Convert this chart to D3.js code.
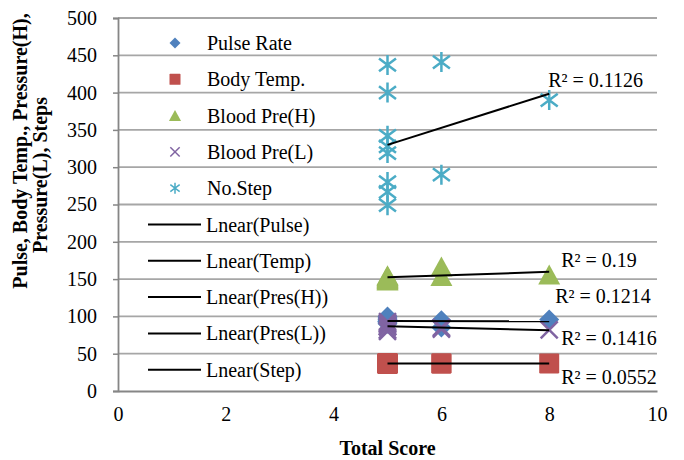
<!DOCTYPE html>
<html>
<head>
<meta charset="utf-8">
<script src="https://cdn.jsdelivr.net/npm/d3@7"></script>
<style>
  html, body { margin: 0; padding: 0; background: #fff; }
  svg { display: block; }
  text { font-family: "Liberation Serif", "Times New Roman", serif; fill: #000; }
</style>
</head>
<body>
<svg id="chart" width="684" height="460"></svg>
<script>
// ---------- data ----------
const totalScore = [5, 5, 5, 5, 5, 5, 5, 5, 6, 6, 8];
const pulseRate  = [100, 96, 92, 94, 98, 90, 93, 93, 95, 85, 96];
const bodyTemp   = [36.8, 37.0, 36.5, 37.2, 36.9, 36.6, 37.1, 36.7, 36.9, 36.8, 37.0];
const bloodPreH  = [155, 150, 149, 152, 151, 153, 148, 154, 167, 154, 156];
const bloodPreL  = [93, 90, 86, 91, 80, 82, 88, 86, 85, 83, 82];
const noStep     = [437, 400, 342, 328, 319, 280, 267, 249, 441, 290, 390];

const seriesNames = ["Pulse Rate", "Body Temp.", "Blood Pre(H)", "Blood Pre(L)", "No.Step"];
const trendNames  = ["Lnear(Pulse)", "Lnear(Temp)", "Lnear(Pres(H))", "Lnear(Pres(L))", "Lnear(Step)"];
const rSquaredLabels = ["R² = 0.1214", "R² = 0.0552", "R² = 0.19", "R² = 0.1416", "R² = 0.1126"];
const yTicks = [0, 50, 100, 150, 200, 250, 300, 350, 400, 450, 500];
const xTicks = [0, 2, 4, 6, 8, 10];
const xTitle = "Total Score";
const yTitleLines = ["Pulse, Body Temp., Pressure(H),", "Pressure(L), Steps"];

// ---------- styling ----------
const colors  = ["#4F81BD", "#C0504D", "#9BBB59", "#8064A2", "#4BACC6"];
const shapes  = ["diamond", "square", "triangle", "cross", "star"];
const values  = [pulseRate, bodyTemp, bloodPreH, bloodPreL, noStep];
// label offsets relative to the right end of each trend line
const labelOffsets = [[6, -18], [12, 21], [12, -5], [12, 15], [-1, -7]];

const W = 684, H = 460;
const m = { left: 118, right: 27, top: 18, bottom: 69 };
const svg = d3.select("#chart");

const x = d3.scaleLinear().domain([0, 10]).range([m.left, W - m.right]);
const y = d3.scaleLinear().domain([0, 500]).range([H - m.bottom, m.top]);

// gridlines
svg.append("g").selectAll("line").data(yTicks.filter(d => d > 0)).join("line")
  .attr("x1", x(0)).attr("x2", x(10))
  .attr("y1", d => y(d)).attr("y2", d => y(d))
  .attr("stroke", "#A6A6A6").attr("stroke-width", 1.8);

// y axis
const yAxis = svg.append("g").attr("transform", `translate(${m.left},0)`)
  .call(d3.axisLeft(y).tickValues(yTicks).tickSize(5).tickPadding(16));
yAxis.select(".domain").attr("stroke", "#868686").attr("stroke-width", 1.8);
yAxis.selectAll(".tick line").attr("stroke", "#868686").attr("stroke-width", 1.5);
yAxis.selectAll("text").style("font-family", "Liberation Serif").style("font-size", "20px").attr("fill", "#000");

// x axis
const xAxis = svg.append("g").attr("transform", `translate(0,${y(0)})`)
  .call(d3.axisBottom(x).tickValues(xTicks).tickSize(0).tickPadding(16).tickFormat(d3.format("d")));
xAxis.select(".domain").attr("stroke", "#868686").attr("stroke-width", 1.8);
xAxis.selectAll("text").style("font-family", "Liberation Serif").style("font-size", "20px").attr("fill", "#000");

// axis titles
svg.append("text").attr("x", x(5)).attr("y", 455)
  .attr("text-anchor", "middle").style("font-size", "20px").style("font-weight", "bold")
  .text(xTitle);
const yTitlePos = [[27, 151], [47, 175]];
yTitleLines.forEach((t, i) => {
  svg.append("text")
    .attr("transform", `translate(${yTitlePos[i][0]},${yTitlePos[i][1]}) rotate(-90)`)
    .attr("text-anchor", "middle").style("font-size", "20px").style("font-weight", "bold")
    .text(t);
});

// marker drawing
function drawMarker(g, shape, color, s) {
  if (shape === "diamond") {
    g.append("path").attr("d", `M0,${-s}L${s},0L0,${s}L${-s},0Z`).attr("fill", color);
  } else if (shape === "square") {
    g.append("rect").attr("x", -s).attr("y", -s).attr("width", 2 * s).attr("height", 2 * s)
      .attr("rx", s * 0.12).attr("fill", color);
  } else if (shape === "triangle") {
    g.append("path").attr("d", `M0,${-s}L${s * 1.1},${s}L${-s * 1.1},${s}Z`).attr("fill", color);
  } else if (shape === "cross") {
    const c = s * 0.85;
    g.append("path").attr("d", `M${-c},${-c}L${c},${c}M${-c},${c}L${c},${-c}`)
      .attr("stroke", color).attr("stroke-width", Math.max(1.5, s * 0.25)).attr("fill", "none");
  } else if (shape === "star") {
    const c = s * 0.85;
    g.append("path").attr("d", `M${-c},${-c * 0.75}L${c},${c * 0.75}M${-c},${c * 0.75}L${c},${-c * 0.75}M0,${-s}L0,${s}`)
      .attr("stroke", color).attr("stroke-width", Math.max(1.5, s * 0.25)).attr("fill", "none");
  }
}

// markers
values.forEach((vals, si) => {
  const g = svg.append("g");
  vals.forEach((v, i) => {
    const mg = g.append("g").attr("transform", `translate(${x(totalScore[i])},${y(v)})`);
    drawMarker(mg, shapes[si], colors[si], 10);
  });
});

// trend lines (least squares)
function linreg(xs, ys) {
  const n = xs.length, mx = d3.mean(xs), my = d3.mean(ys);
  let sxy = 0, sxx = 0;
  for (let i = 0; i < n; i++) { sxy += (xs[i] - mx) * (ys[i] - my); sxx += (xs[i] - mx) ** 2; }
  const b = sxy / sxx;
  return { b, a: my - b * mx };
}
const xMin = d3.min(totalScore), xMax = d3.max(totalScore);
values.forEach((vals, si) => {
  const r = linreg(totalScore, vals);
  const y1 = r.a + r.b * xMin, y2 = r.a + r.b * xMax;
  svg.append("line")
    .attr("x1", x(xMin)).attr("y1", y(y1)).attr("x2", x(xMax)).attr("y2", y(y2))
    .attr("stroke", "#000").attr("stroke-width", 2);
  svg.append("text")
    .attr("x", x(xMax) + labelOffsets[si][0]).attr("y", y(y2) + labelOffsets[si][1])
    .style("font-size", "20px")
    .text(rSquaredLabels[si]);
});

// legend
const leg = svg.append("g");
const legY0 = 43, legStep = 36.3;
seriesNames.forEach((name, i) => {
  const cy = legY0 + i * legStep;
  const mg = leg.append("g").attr("transform", `translate(175,${cy})`);
  drawMarker(mg, shapes[i], colors[i], 5.5);
  leg.append("text").attr("x", 207).attr("y", cy).attr("dy", "0.35em")
    .style("font-size", "20px").text(name);
});
trendNames.forEach((name, j) => {
  const cy = legY0 + (j + 5) * legStep;
  leg.append("line").attr("x1", 148).attr("x2", 201).attr("y1", cy).attr("y2", cy)
    .attr("stroke", "#000").attr("stroke-width", 2);
  leg.append("text").attr("x", 206).attr("y", cy).attr("dy", "0.35em")
    .style("font-size", "20px").text(name);
});
</script>
</body>
</html>
